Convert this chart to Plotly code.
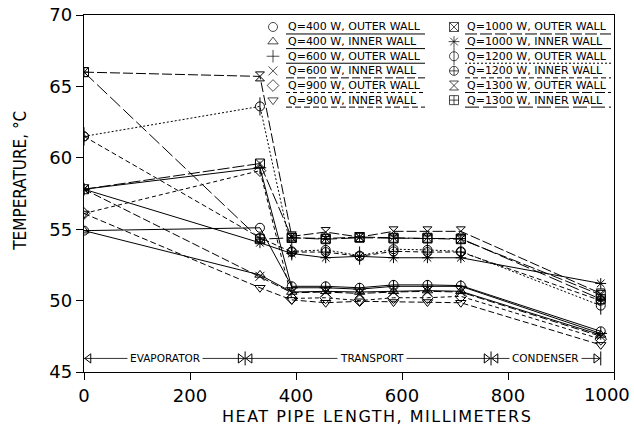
import plotly.graph_objects as go

# Thermocouple stations along the heat pipe (mm)
position_mm = [0, 332, 392, 456, 520, 584, 648, 711, 975]

# Wall temperatures (deg C) for each heat load
q400_outer = [54.9, 55.1, 51.0, 51.0, 50.9, 51.1, 51.1, 51.05, 47.85]
q400_inner = [54.9, 51.8, 50.6, 50.65, 50.6, 50.65, 50.7, 50.65, 47.6]
q600_outer = [57.8, 59.3, 50.9, 50.9, 50.8, 51.0, 51.0, 51.0, 47.7]
q600_inner = [57.8, 51.7, 50.55, 50.6, 50.5, 50.6, 50.65, 50.6, 47.5]
q900_outer = [56.1, 59.1, 50.15, 50.2, 50.0, 50.2, 50.2, 50.3, 47.3]
q900_inner = [56.1, 50.9, 50.05, 49.85, 49.95, 49.9, 49.9, 49.85, 46.9]
q1000_outer = [57.8, 59.6, 54.4, 54.35, 54.45, 54.4, 54.4, 54.3, 50.4]
q1000_inner = [57.8, 54.05, 53.3, 53.0, 53.1, 53.0, 53.0, 53.0, 51.2]
q1200_outer = [61.5, 63.6, 53.45, 53.55, 53.15, 53.6, 53.55, 53.45, 49.65]
q1200_inner = [61.5, 54.4, 53.4, 53.4, 53.1, 53.45, 53.4, 53.4, 50.0]
q1300_outer = [66.0, 65.7, 54.5, 54.8, 54.45, 54.85, 54.85, 54.85, 50.5]
q1300_inner = [66.0, 54.3, 54.4, 54.3, 54.4, 54.35, 54.35, 54.35, 50.1]

series_labels = [
    "Q=400 W, OUTER WALL", "Q=400 W, INNER WALL",
    "Q=600 W, OUTER WALL", "Q=600 W, INNER WALL",
    "Q=900 W, OUTER WALL", "Q=900 W, INNER WALL",
    "Q=1000 W, OUTER WALL", "Q=1000 W, INNER WALL",
    "Q=1200 W, OUTER WALL", "Q=1200 W, INNER WALL",
    "Q=1300 W, OUTER WALL", "Q=1300 W, INNER WALL",
]
series_values = [
    q400_outer, q400_inner, q600_outer, q600_inner, q900_outer, q900_inner,
    q1000_outer, q1000_inner, q1200_outer, q1200_inner, q1300_outer, q1300_inner,
]

# Heat pipe sections along the length (mm)
zone_labels = ["EVAPORATOR", "TRANSPORT", "CONDENSER"]
zone_edges = [0, 304, 768, 975]

x_ticks = [0, 200, 400, 600, 800, 1000]
x_tick_text = ["0", "200", "400", "600", "800", "1000"]
y_ticks = [45, 50, 55, 60, 65, 70]

# marker symbol, extra overlay symbol (or None), line dash
styles = [
    ("circle-open", None, "solid"),
    ("triangle-up-open", None, "solid"),
    ("cross-thin-open", None, "solid"),
    ("x-thin-open", None, "8px,3px"),
    ("diamond-open", None, "4px,3px"),
    ("triangle-down-open", None, "6px,3px"),
    ("square-x-open", None, "12px,3px"),
    ("asterisk-open", None, "solid"),
    ("circle-open", "line-ns-open", "2px,2px"),
    ("circle-cross-open", None, "5px,3px"),
    ("hourglass-open", None, "10px,3px"),
    ("square-cross-open", None, "14px,4px"),
]

FONT = "DejaVu Sans, Arial, sans-serif"
fig = go.Figure()

for label, vals, (sym, extra, dash) in zip(series_labels, series_values, styles):
    fig.add_trace(go.Scatter(
        x=position_mm, y=vals, mode="lines+markers", name=label,
        line=dict(color="black", width=1, dash=dash),
        marker=dict(symbol=sym, size=9, color="black", line=dict(width=1, color="black")),
        showlegend=False,
    ))
    if extra:
        fig.add_trace(go.Scatter(
            x=position_mm, y=vals, mode="markers", showlegend=False,
            marker=dict(symbol=extra, size=13, color="black", line=dict(width=1, color="black")),
        ))

# Section indicator along the bottom of the plot
zone_y = 45.95
for i, name in enumerate(zone_labels):
    x0, x1 = zone_edges[i], zone_edges[i + 1]
    fig.add_trace(go.Scatter(
        x=[x0, x1], y=[zone_y, zone_y], mode="lines", showlegend=False,
        line=dict(color="black", width=0.8),
    ))
    fig.add_trace(go.Scatter(
        x=[x0 + 9, x1 - 9], y=[zone_y, zone_y], mode="markers", showlegend=False,
        marker=dict(symbol=["triangle-left-open", "triangle-right-open"], size=8,
                    color="black", line=dict(width=1, color="black")),
    ))
    fig.add_annotation(
        x=(x0 + x1) / 2 + (0 if i != 1 else 8), y=zone_y, text=name, showarrow=False,
        font=dict(family=FONT, size=10.5, color="black"), bgcolor="white", borderpad=2,
    )
fig.add_trace(go.Scatter(
    x=zone_edges[1:], y=[zone_y] * 3, mode="markers", showlegend=False,
    marker=dict(symbol="line-ns-open", size=10, color="black", line=dict(width=1, color="black")),
))

# Two-column key: symbol, label and a line sample under each label
row_top_px, row_step_px = 27.0, 14.65
plot_h, plot_w, plot_top, plot_left = 357.5, 530.0, 15.0, 84.0
key_x = [(273 - plot_left) / plot_w, (454 - plot_left) / plot_w]
text_x = [(286 - plot_left) / plot_w, (465 - plot_left) / plot_w]
line_len = [139 / plot_w, 146 / plot_w]
key_xs, key_ys, key_syms = [], [], []
for idx, (label, (sym, extra, dash)) in enumerate(zip(series_labels, styles)):
    col, row = (0, idx) if idx < 6 else (1, idx - 6)
    py = row_top_px + row * row_step_px
    yp = (plot_top + plot_h - py) / plot_h
    key_xs.append(key_x[col]); key_ys.append(yp); key_syms.append(sym)
    if extra:
        key_xs.append(key_x[col]); key_ys.append(yp); key_syms.append(extra)
    fig.add_annotation(
        xref="paper", yref="paper", x=text_x[col], y=yp, xanchor="left", yanchor="middle",
        text=label, showarrow=False, font=dict(family=FONT, size=11, color="black"),
    )
    uy = yp - 7 / plot_h
    fig.add_shape(
        type="line", xref="paper", yref="paper",
        x0=text_x[col], x1=text_x[col] + line_len[col], y0=uy, y1=uy,
        line=dict(color="black", width=1, dash=dash),
    )
key_sizes = [13 if s == "line-ns-open" else 9 for s in key_syms]
fig.add_trace(go.Scatter(
    x=key_xs, y=key_ys, xaxis="x2", yaxis="y2", mode="markers", showlegend=False,
    marker=dict(symbol=key_syms, size=key_sizes, color="black", line=dict(width=1, color="black")),
    cliponaxis=False,
))

# Last x tick label sits left of its tick so it stays inside the page
fig.add_annotation(
    x=x_ticks[-1], xref="x", yref="paper", y=(plot_top + plot_h - 395) / plot_h,
    xanchor="right", yanchor="middle", xshift=18, text=x_tick_text[-1], showarrow=False,
    font=dict(family=FONT, size=18, color="black"),
)
shown_tick_text = x_tick_text[:-1] + [""]

# Axis titles
fig.add_annotation(
    xref="paper", yref="paper", x=(377 - plot_left) / plot_w, y=(plot_top + plot_h - 417.5) / plot_h,
    xanchor="center", yanchor="middle",
    text='<span style="letter-spacing:1.5px">HEAT PIPE LENGTH, MILLIMETERS</span>',
    showarrow=False, font=dict(family=FONT, size=16, color="black"),
)
fig.add_annotation(
    xref="paper", yref="paper", x=(20 - plot_left) / plot_w, y=(plot_top + plot_h - 181) / plot_h,
    xanchor="center", yanchor="middle",
    text="TEMPERATURE, °C", textangle=-90, showarrow=False,
    font=dict(family="Liberation Sans Narrow, DejaVu Sans Condensed, Arial Narrow, sans-serif",
              size=17, color="black"),
)

axis_common = dict(
    showgrid=False, zeroline=False, showline=True, mirror=True, linecolor="black",
    linewidth=1.3, ticks="outside", ticklen=7, tickwidth=1.3, tickcolor="black",
    tickfont=dict(family=FONT, size=18, color="black"), automargin=False,
)
fig.update_layout(
    template="none",
    width=634, height=429,
    margin=dict(l=84, r=20, t=15, b=56.5),
    paper_bgcolor="white", plot_bgcolor="white",
    font=dict(family=FONT, color="black"),
    showlegend=False,
    xaxis=dict(range=[0, 1000], tickvals=x_ticks, ticktext=shown_tick_text, **axis_common),
    yaxis=dict(range=[45, 70], tickvals=y_ticks, **axis_common),
    xaxis2=dict(overlaying="x", range=[0, 1], visible=False, anchor="y2"),
    yaxis2=dict(overlaying="y", range=[0, 1], visible=False, anchor="x2"),
)

fig.write_html("out.html")
